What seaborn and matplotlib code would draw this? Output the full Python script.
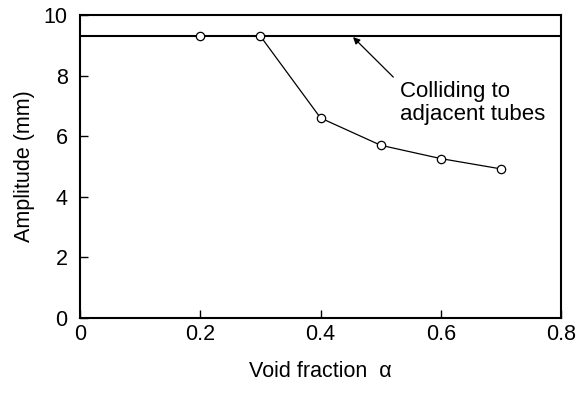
import matplotlib
matplotlib.use("Agg")
import matplotlib.pyplot as plt
import seaborn as sns
import pandas as pd

void_fraction = [0.2, 0.3, 0.4, 0.5, 0.6, 0.7]
amplitude = [9.3, 9.3, 6.6, 5.7, 5.26, 4.92]
limit_amplitude = 9.3
xticks = [0, 0.2, 0.4, 0.6, 0.8]
xticklabels = ["0", "0.2", "0.4", "0.6", "0.8"]
yticks = [0, 2, 4, 6, 8, 10]
annotation_text = "Colliding to\nadjacent tubes"

sns.set_style("ticks", {"xtick.direction": "in", "ytick.direction": "in",
                        "axes.edgecolor": "black", "text.color": "black",
                        "axes.labelcolor": "black", "xtick.color": "black",
                        "ytick.color": "black"})
plt.rcParams["font.family"] = ["Liberation Sans", "DejaVu Sans"]
plt.rcParams["font.size"] = 15.5

fig = plt.figure(figsize=(5.76, 3.94), dpi=100)
ax = fig.add_axes([0.139, 0.193, 0.835, 0.769])

df = pd.DataFrame({"x": void_fraction, "y": amplitude})
ax.axhline(limit_amplitude, color="black", lw=1.5, zorder=2)
sns.lineplot(data=df, x="x", y="y", ax=ax, color="black", lw=0.9,
             marker="o", markersize=6, markerfacecolor="white",
             markeredgecolor="black", markeredgewidth=0.9, zorder=3)

ax.annotate("", xy=(0.454, 9.27), xytext=(0.521, 7.95),
            arrowprops=dict(arrowstyle="-|>", color="black", lw=0.9,
                            mutation_scale=10, shrinkA=0, shrinkB=0))
ax.text(0.532, 7.1, annotation_text, ha="left", va="center", fontsize=16,
        linespacing=1.1, color="black")

ax.set_xlim(0, 0.8)
ax.set_ylim(0, 10)
ax.set_xticks(xticks)
ax.set_xticklabels(xticklabels)
ax.set_yticks(yticks)
ax.tick_params(axis="both", labelsize=15.5, length=5.5, width=1,
               colors="black")
ax.tick_params(axis="x", pad=4)
ax.tick_params(axis="y", pad=9)
for s in ax.spines.values():
    s.set_linewidth(1.5)
    s.set_color("black")
    s.set_visible(True)
ax.set_xlabel("Void fraction  α", fontsize=15.5, labelpad=12, color="black")
ax.set_ylabel("Amplitude (mm)", fontsize=15.5, labelpad=6, color="black")

fig.savefig("out.png", dpi=100)
